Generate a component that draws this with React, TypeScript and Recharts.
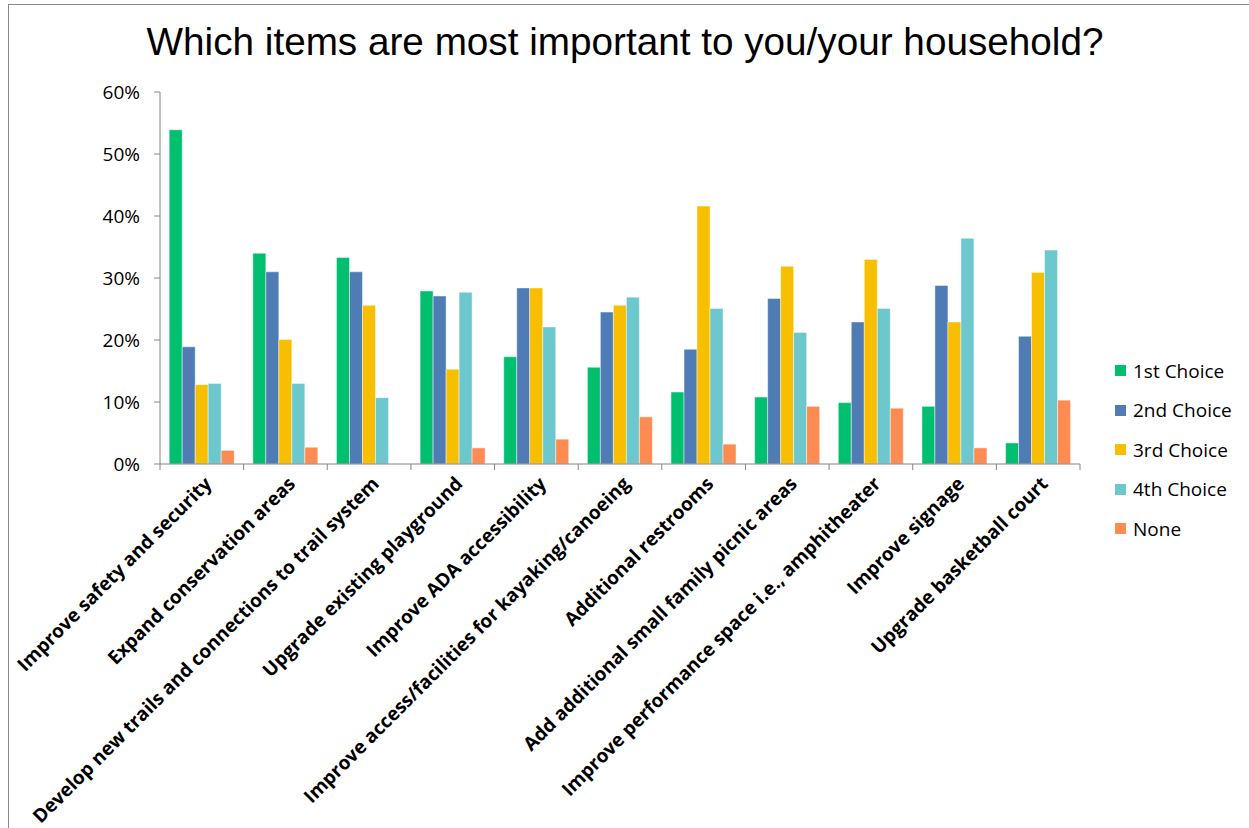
import { BarChart, Bar, XAxis, YAxis, Legend } from 'recharts';

const categories = [
  'Improve safety and security',
  'Expand conservation areas',
  'Develop new trails and connections to trail system',
  'Upgrade existing playground',
  'Improve ADA accessibility',
  'Improve access/facilities for kayaking/canoeing',
  'Additional restrooms',
  'Add additional small family picnic areas',
  'Improve performance space i.e., amphitheater',
  'Improve signage',
  'Upgrade basketball court',
];

const firstChoice = [53.9, 34.0, 33.3, 27.9, 17.3, 15.6, 11.6, 10.8, 9.9, 9.3, 3.4];
const secondChoice = [18.9, 31.0, 31.0, 27.1, 28.4, 24.5, 18.5, 26.7, 22.9, 28.8, 20.6];
const thirdChoice = [12.8, 20.1, 25.6, 15.3, 28.4, 25.6, 41.6, 31.9, 33.0, 22.9, 30.9];
const fourthChoice = [13.0, 13.0, 10.7, 27.7, 22.1, 26.9, 25.1, 21.2, 25.1, 36.4, 34.5];
const noneChoice = [2.2, 2.7, 0, 2.6, 4.0, 7.6, 3.2, 9.3, 9.0, 2.6, 10.3];

const yTicks = [0, 10, 20, 30, 40, 50, 60];

const series = [
  { key: 'first', name: '1st Choice', color: '#00bf6f' },
  { key: 'second', name: '2nd Choice', color: '#4f7cb4' },
  { key: 'third', name: '3rd Choice', color: '#f8be00' },
  { key: 'fourth', name: '4th Choice', color: '#6cc8cc' },
  { key: 'none', name: 'None', color: '#fe8b51' },
];

const data = categories.map((name, i) => ({
  name,
  first: firstChoice[i],
  second: secondChoice[i],
  third: thirdChoice[i],
  fourth: fourthChoice[i],
  none: noneChoice[i],
}));

const CHART_W = 1240;
const CHART_H = 823;
const PLOT_LEFT = 151;
const PLOT_RIGHT = 1071;
const BAND = (PLOT_RIGHT - PLOT_LEFT) / categories.length;
const AXIS_COLOR = '#868686';
const FONT = '"Open Sans", "Noto Sans", sans-serif';

function CategoryTick(props: any) {
  const { x, y, payload, index } = props;
  const last = index === categories.length - 1;
  const ax = x + 11;
  const ay = y + 21;
  return (
    <g>
      <line x1={x - BAND / 2} y1={y} x2={x - BAND / 2} y2={y + 6} stroke={AXIS_COLOR} />
      {last && <line x1={x + BAND / 2} y1={y} x2={x + BAND / 2} y2={y + 6} stroke={AXIS_COLOR} />}
      <text
        x={ax}
        y={ay}
        transform={`rotate(-45, ${ax}, ${ay})`}
        textAnchor="end"
        fontFamily={FONT}
        fontWeight={700}
        fontSize={19}
        fill="#000"
      >
        {payload.value}
      </text>
    </g>
  );
}

function LegendContent() {
  return (
    <div style={{ width: 130, fontFamily: FONT, fontSize: 19, color: '#000' }}>
      {series.map((s) => (
        <div key={s.key} style={{ height: 39.5, display: 'flex', alignItems: 'center' }}>
          <span style={{ width: 11, height: 11, background: s.color, marginRight: 7, display: 'inline-block' }} />
          <span>{s.name}</span>
        </div>
      ))}
    </div>
  );
}

export default function App() {
  return (
    <div
      style={{
        position: 'absolute',
        left: 8,
        top: 4,
        width: 1241,
        height: 824,
        boxSizing: 'border-box',
        borderLeft: '1px solid #898989',
        borderTop: '1px solid #898989',
        background: '#fff',
      }}
    >
      <div
        style={{
          position: 'absolute',
          left: -4,
          top: 15,
          width: CHART_W,
          textAlign: 'center',
          fontFamily: '"Liberation Sans", Arial, sans-serif',
          fontSize: 38.7,
          lineHeight: '44px',
          color: '#000',
        }}
      >
        Which items are most important to you/your household?
      </div>
      <BarChart
        width={CHART_W}
        height={CHART_H}
        data={data}
        margin={{ top: 87, right: 39, bottom: 0, left: 0 }}
        barCategoryGap="11%"
        barGap={0}
      >
        <XAxis
          dataKey="name"
          interval={0}
          height={364}
          axisLine={{ stroke: AXIS_COLOR }}
          tickLine={false}
          tickSize={0}
          tickMargin={0}
          tick={<CategoryTick />}
        />
        <YAxis
          width={PLOT_LEFT}
          domain={[0, 60]}
          ticks={yTicks}
          tickFormatter={(v) => `${v}%`}
          axisLine={{ stroke: AXIS_COLOR }}
          tickLine={{ stroke: AXIS_COLOR }}
          tickSize={6}
          tickMargin={14}
          tick={{ fontFamily: FONT, fontSize: 19, fill: '#000' }}
        />
        <Legend
          layout="vertical"
          align="right"
          verticalAlign="middle"
          content={<LegendContent />}
          wrapperStyle={{ left: 1106, top: 346, width: 130 }}
        />
        {series.map((s) => (
          <Bar
            key={s.key}
            dataKey={s.key}
            name={s.name}
            fill={s.color}
            stroke="#ffffff"
            strokeOpacity={0.45}
            strokeWidth={1}
            isAnimationActive={false}
          />
        ))}
      </BarChart>
    </div>
  );
}
